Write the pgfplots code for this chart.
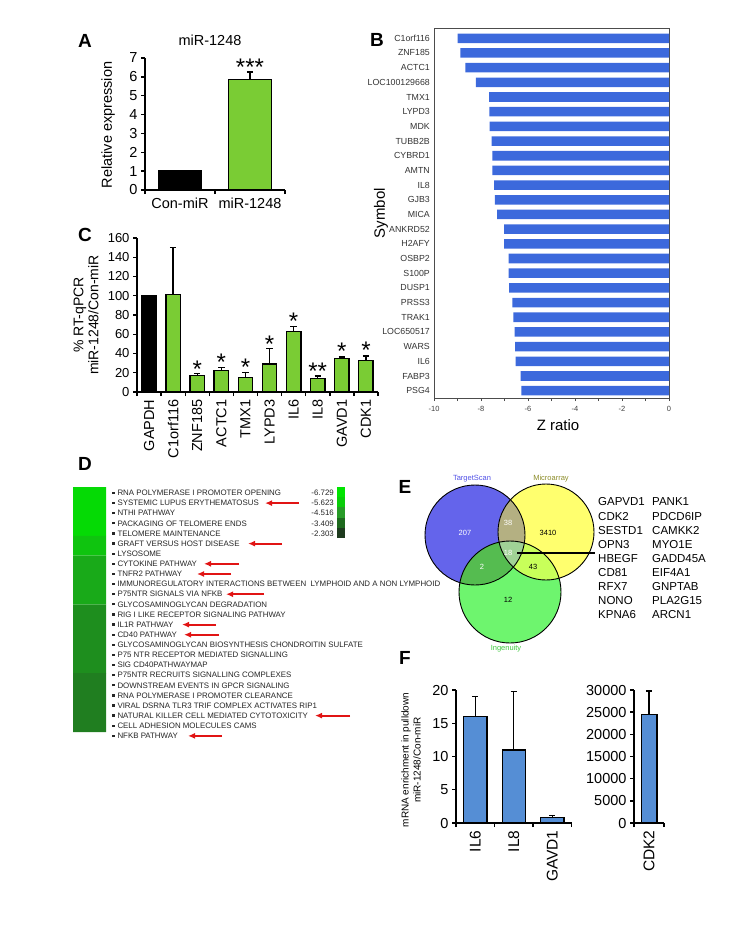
\documentclass[border=0pt]{standalone}
\usepackage{pgfplots}
\pgfplotsset{compat=1.18}
\usepackage{fontspec}
\setmainfont{Liberation Sans}
\usetikzlibrary{arrows.meta}

\newcommand{\fs}[1]{\fontsize{#1}{#1}\selectfont}
\newcommand{\bul}{\raisebox{1.6pt}{\rule{2.3pt}{2.3pt}}\hspace{3pt}}

\definecolor{barGreen}{RGB}{122,204,52}
\definecolor{zBlue}{RGB}{60,105,220}
\definecolor{fBlue}{RGB}{85,142,213}
\definecolor{vBlue}{RGB}{100,100,235}
\definecolor{vYellow}{RGB}{255,255,110}
\definecolor{vGreen}{RGB}{110,245,110}
\definecolor{vBY}{RGB}{180,176,130}
\definecolor{vBG}{RGB}{85,188,80}
\definecolor{vYG}{RGB}{200,255,90}
\definecolor{vAll}{RGB}{160,210,150}
\definecolor{hm1}{RGB}{5,218,5}
\definecolor{hm2}{RGB}{15,196,15}
\definecolor{hm3}{RGB}{25,170,25}
\definecolor{hm4}{RGB}{30,142,30}
\definecolor{hm5}{RGB}{32,126,32}
\definecolor{cb1}{RGB}{0,228,0}
\definecolor{cb2}{RGB}{10,205,10}
\definecolor{cb3}{RGB}{40,155,40}
\definecolor{cb4}{RGB}{30,105,30}
\definecolor{cb5}{RGB}{30,58,30}
\definecolor{arrowRed}{RGB}{225,20,20}

\pgfplotsset{
  barpanel/.style={
    scale only axis,
    axis x line*=bottom, axis y line*=left,
    axis line style={line width=1.6pt},
    tick style={black, line width=1.4pt},
    tick align=outside,
    major tick length=4pt,
    ymin=0,
    ybar, bar shift=0pt,
    x tick label as interval,
    /pgf/number format/assume math mode=true,
    every axis plot/.append style={draw=black, line width=1.4pt},
    clip=false,
  },
  eb/.style={error bars/.cd, y dir=plus, y explicit,
    error bar style={line width=1.4pt, black},
    error mark options={rotate=90, mark size=3.2pt, line width=1.4pt, black}},
}

\begin{document}
\begin{tikzpicture}
\useasboundingbox (0,0) rectangle (750pt,-934pt);

% ---------- A
\begin{axis}[barpanel, at={(145pt,-190pt)}, anchor=south west,
  width=140pt, height=132pt, xmin=0.5, xmax=2.5, ymax=7,
  ytick={0,...,7}, xtick={0.5,1.5,2.5}, xticklabels={Con-miR,miR-1248},
  bar width=0.61, tick label style={font=\fs{14.5}}]
\addplot[fill=black] coordinates {(1,1.03)};
\addplot[fill=barGreen, eb] coordinates {(2,5.85) +- (0,0.4)};
\node[font=\fs{24}, anchor=base, inner sep=0] at (axis cs:2,6.05) {***};
\end{axis}

% ---------- C
\begin{axis}[barpanel, at={(137pt,-392pt)}, anchor=south west,
  width=241pt, height=154pt, xmin=0.5, xmax=10.5, ymax=160,
  ytick={0,20,...,160}, xtick={0.5,1.5,...,10.5},
  xticklabels={GAPDH,C1orf116,ZNF185,ACTC1,TMX1,LYPD3,IL6,IL8,GAVD1,CDK1},
  xticklabel style={rotate=90, anchor=east, font=\fs{14.5}},
  yticklabel style={font=\fs{13}}, bar width=0.6]
\addplot[fill=black] coordinates {(1,100)};
\addplot[fill=barGreen, eb] coordinates {
  (2,101.5) +- (0,48.5)
  (3,17) +- (0,2.4)
  (4,22.5) +- (0,2.8)
  (5,15) +- (0,5.5)
  (6,29) +- (0,16)
  (7,63) +- (0,5)
  (8,14) +- (0,2.5)
  (9,35) +- (0,1.2)
  (10,32.5) +- (0,5)
};
\begin{scope}[every node/.style={font=\fs{24}, anchor=base, inner sep=0}]
\node at (axis cs:3,15.3) {*};
\node at (axis cs:4,22.2) {*};
\node at (axis cs:5,17) {*};
\node at (axis cs:6,41.3) {*};
\node at (axis cs:7,64.5) {*};
\node at (axis cs:8,13.5) {**};
\node at (axis cs:9,33.3) {*};
\node at (axis cs:10,35) {*};
\end{scope}
\end{axis}

% ---------- B
\begin{axis}[at={(434pt,-398pt)}, anchor=south west, scale only axis,
  width=235pt, height=370pt, xmin=-10, xmax=0, ymin=-0.5, ymax=24.7,
  xbar, bar shift=0pt, bar width=0.65,
  xtick={-10,-8,...,0}, minor xtick={-9,-7,...,-1}, xtick pos=bottom,
  tick align=outside, major tick length=3pt, minor tick length=3pt,
  x tick style={black!70, line width=0.5pt},
  ytick={0,...,24}, y tick style={draw=none},
  yticklabels={PSG4,FABP3,IL6,WARS,LOC650517,TRAK1,PRSS3,DUSP1,S100P,OSBP2,H2AFY,ANKRD52,MICA,GJB3,IL8,AMTN,CYBRD1,TUBB2B,MDK,LYPD3,TMX1,LOC100129668,ACTC1,ZNF185,C1orf116},
  axis line style={black!70, line width=0.6pt},
  yticklabel style={font=\fs{8.8}, text=black!80, inner sep=1pt},
  xticklabel style={font=\fs{7.5}, text=black!75, yshift=-2pt},
  /pgf/number format/assume math mode=true]
\addplot[fill=zBlue, draw=none] coordinates {
  (-6.28,0) (-6.31,1) (-6.53,2) (-6.55,3) (-6.57,4) (-6.62,5) (-6.66,6)
  (-6.80,7) (-6.83,8) (-6.83,9) (-7.02,10) (-7.02,11) (-7.31,12) (-7.41,13)
  (-7.44,14) (-7.52,15) (-7.52,16) (-7.55,17) (-7.63,18) (-7.64,19)
  (-7.65,20) (-8.22,21) (-8.66,22) (-8.88,23) (-9.00,24)
};
\end{axis}

% ---------- D heat map
\begin{axis}[at={(73pt,-487pt)}, anchor=north west, scale only axis,
  width=33pt, height=245pt, hide axis, xmin=0, xmax=1,
  ymin=0.5, ymax=25.5, y dir=reverse, xbar, bar shift=0pt, bar width=1.02]
\addplot[fill=hm1, draw=none] coordinates {(1,1) (1,2) (1,3) (1,4) (1,5)};
\addplot[fill=hm2, draw=none] coordinates {(1,6) (1,7)};
\addplot[fill=hm3, draw=none] coordinates {(1,8) (1,9) (1,10) (1,11) (1,12)};
\addplot[fill=hm4, draw=none] coordinates {(1,13) (1,14) (1,15) (1,16) (1,17) (1,18) (1,19)};
\addplot[fill=hm5, draw=none] coordinates {(1,20) (1,21) (1,22) (1,23) (1,24) (1,25)};
\end{axis}

% ---------- D colour key
\begin{axis}[at={(337pt,-487pt)}, anchor=north west, scale only axis,
  width=8pt, height=51pt, hide axis, xmin=0, xmax=1,
  ymin=0.5, ymax=5.5, y dir=reverse, xbar, bar shift=0pt, bar width=1.02]
\addplot[fill=cb1, draw=none] coordinates {(1,1)};
\addplot[fill=cb2, draw=none] coordinates {(1,2)};
\addplot[fill=cb3, draw=none] coordinates {(1,3)};
\addplot[fill=cb4, draw=none] coordinates {(1,4)};
\addplot[fill=cb5, draw=none] coordinates {(1,5)};
\end{axis}

% ---------- E Venn
\begin{axis}[at={(420pt,-470pt)}, anchor=north west, scale only axis,
  width=180pt, height=190pt, hide axis, clip=false,
  xmin=420, xmax=600, ymin=470, ymax=660, y dir=reverse]
\addplot[draw=none] coordinates {(420,470) (600,660)};
\fill[vBlue] (axis cs:475,535) circle[radius=50pt];
\fill[vYellow] (axis cs:546,532) circle[radius=48pt];
\fill[vGreen] (axis cs:510,592) circle[radius=51pt];
\begin{scope}
  \clip (axis cs:475,535) circle[radius=50pt];
  \fill[vBY] (axis cs:546,532) circle[radius=48pt];
  \fill[vBG] (axis cs:510,592) circle[radius=51pt];
\end{scope}
\begin{scope}
  \clip (axis cs:546,532) circle[radius=48pt];
  \fill[vYG] (axis cs:510,592) circle[radius=51pt];
\end{scope}
\begin{scope}
  \clip (axis cs:475,535) circle[radius=50pt];
  \clip (axis cs:546,532) circle[radius=48pt];
  \fill[vAll] (axis cs:510,592) circle[radius=51pt];
\end{scope}
\draw[line width=0.9pt] (axis cs:475,535) circle[radius=50pt];
\draw[line width=0.9pt] (axis cs:546,532) circle[radius=48pt];
\draw[line width=0.9pt] (axis cs:510,592) circle[radius=51pt];
\end{axis}

% ---------- F
\begin{axis}[barpanel, at={(456pt,-823pt)}, anchor=south west,
  width=115.5pt, height=133pt, xmin=0.5, xmax=3.5, ymax=20,
  ytick={0,5,...,20}, xtick={0.5,1.5,...,3.5}, xticklabels={IL6,IL8,GAVD1},
  xticklabel style={rotate=90, anchor=east, font=\fs{15.5}},
  yticklabel style={font=\fs{14.5}}, bar width=0.6]
\addplot[fill=fBlue, eb] coordinates {(1,16) +- (0,3) (2,11) +- (0,8.8) (3,0.8) +- (0,0.3)};
\end{axis}
\begin{axis}[barpanel, at={(634pt,-823pt)}, anchor=south west,
  width=30pt, height=133pt, xmin=0.5, xmax=1.5, ymax=30000,
  ytick={0,5000,...,30000}, scaled y ticks=false,
  /pgf/number format/1000 sep={},
  xtick={0.5,1.5}, xticklabels={CDK2},
  xticklabel style={rotate=90, anchor=east, font=\fs{15.5}},
  yticklabel style={font=\fs{14.5}}, bar width=0.52]
\addplot[fill=fBlue, eb] coordinates {(1,24500) +- (0,5300)};
\end{axis}

% ---------- panel letters and axis titles
\begin{scope}[every node/.style={font=\fs{19}\bfseries}]
\node at (85pt,-41pt) {A};
\node at (377pt,-40pt) {B};
\node at (85pt,-235pt) {C};
\node at (85pt,-464pt) {D};
\node at (405pt,-487pt) {E};
\node at (405pt,-658pt) {F};
\end{scope}
\node[font=\fs{14.5}] at (210pt,-40pt) {miR-1248};
\node[font=\fs{14.5}, rotate=90] at (108pt,-125pt) {Relative expression};
\node[font=\fs{14}, rotate=90, align=center] at (86pt,-315pt)
  {\% RT-qPCR\\[1pt]miR-1248/Con-miR};
\node[font=\fs{15}, rotate=90] at (381pt,-213pt) {Symbol};
\node[font=\fs{15}] at (558pt,-425pt) {Z ratio};
\node[font=\fs{10}, rotate=90, align=center] at (411pt,-760pt)
  {mRNA enrichment in pulldown\\[2pt]miR-1248/Con-miR};

% ---------- D pathway list
\foreach \t [count=\i] in {RNA POLYMERASE I PROMOTER OPENING,
  SYSTEMIC LUPUS ERYTHEMATOSUS, NTHI PATHWAY, PACKAGING OF TELOMERE ENDS,
  TELOMERE MAINTENANCE, GRAFT VERSUS HOST DISEASE, LYSOSOME,
  CYTOKINE PATHWAY, TNFR2 PATHWAY,
  IMMUNOREGULATORY INTERACTIONS BETWEEN\ \ LYMPHOID AND A NON LYMPHOID,
  P75NTR SIGNALS VIA NFKB, GLYCOSAMINOGLYCAN DEGRADATION,
  RIG I LIKE RECEPTOR SIGNALING PATHWAY, IL1R PATHWAY, CD40 PATHWAY,
  GLYCOSAMINOGLYCAN BIOSYNTHESIS CHONDROITIN SULFATE,
  P75 NTR RECEPTOR MEDIATED SIGNALLING, SIG CD40PATHWAYMAP,
  P75NTR RECRUITS SIGNALLING COMPLEXES, DOWNSTREAM EVENTS IN GPCR SIGNALING,
  RNA POLYMERASE I PROMOTER CLEARANCE,
  VIRAL DSRNA TLR3 TRIF COMPLEX ACTIVATES RIP1,
  NATURAL KILLER CELL MEDIATED CYTOTOXICITY, CELL ADHESION MOLECULES CAMS,
  NFKB PATHWAY}
  {\node[anchor=west, inner sep=0, font=\fs{7.9}, text=black!85]
     at (112pt, {-(493+10.12*(\i-1))*1pt}) {\bul\t};}
\foreach \v [count=\i] in {-6.729,-5.623,-4.516,-3.409,-2.303}
  {\node[anchor=east, inner sep=0, font=\fs{7.9}, text=black!85]
     at (334pt, {-(493+10.12*(\i-1))*1pt}) {\v};}
\begin{scope}[arrowRed, line width=1.9pt, -{Latex[length=7pt,width=6pt]}]
\draw (299pt,-503.1pt) -- (265pt,-503.1pt);
\draw (282pt,-543.6pt) -- (248pt,-543.6pt);
\draw (239pt,-563.8pt) -- (204pt,-563.8pt);
\draw (231pt,-574pt) -- (197pt,-574pt);
\draw (264pt,-594.2pt) -- (226pt,-594.2pt);
\draw (216pt,-624.6pt) -- (182pt,-624.6pt);
\draw (219pt,-634.7pt) -- (184pt,-634.7pt);
\draw (350pt,-715.6pt) -- (315pt,-715.6pt);
\draw (222pt,-735.9pt) -- (188pt,-735.9pt);
\end{scope}

% ---------- E labels
\node[font=\fs{7.5}, text={rgb,255:red,80;green,80;blue,230}] at (472pt,-479pt) {TargetScan};
\node[font=\fs{7.5}, text={rgb,255:red,140;green,140;blue,40}] at (551pt,-479pt) {Microarray};
\node[font=\fs{7.5}, text={rgb,255:red,60;green,200;blue,60}] at (506pt,-649pt) {Ingenuity};
\begin{scope}[every node/.style={font=\fs{7.5}}]
\node[white] at (465pt,-533pt) {207};
\node[white] at (508pt,-523pt) {38};
\node at (548pt,-533pt) {3410};
\node[white] at (508pt,-553pt) {18};
\node[white] at (482pt,-567pt) {2};
\node at (533pt,-567pt) {43};
\node at (508pt,-600pt) {12};
\end{scope}
\draw[line width=2.3pt] (517pt,-553pt) -- (595pt,-553pt);
\foreach \g [count=\i] in {GAPVD1,CDK2,SESTD1,OPN3,HBEGF,CD81,RFX7,NONO,KPNA6}
  {\node[anchor=west, inner sep=0, font=\fs{11.5}] at (598pt, {-(502+14.1*(\i-1))*1pt}) {\g};}
\foreach \g [count=\i] in {PANK1,PDCD6IP,CAMKK2,MYO1E,GADD45A,EIF4A1,GNPTAB,PLA2G15,ARCN1}
  {\node[anchor=west, inner sep=0, font=\fs{11.5}] at (652pt, {-(502+14.1*(\i-1))*1pt}) {\g};}
\end{tikzpicture}
\end{document}
